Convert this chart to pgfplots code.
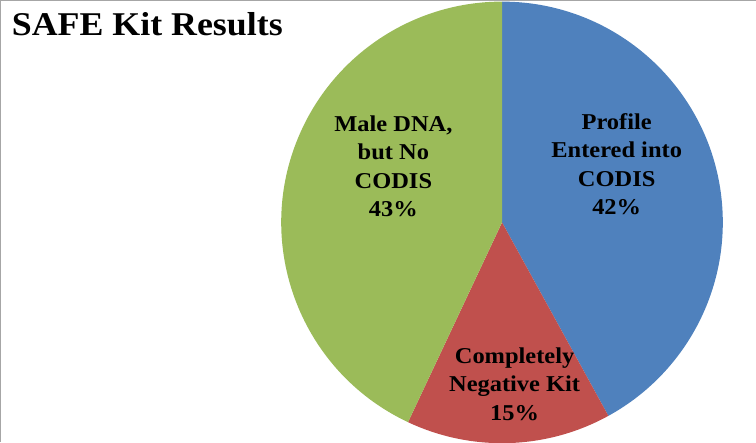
\documentclass[border=0pt]{standalone}
\usepackage{fontspec}
\setmainfont[FakeStretch=1.08]{Liberation Serif}
\usepackage{pgfplots}
\usepackage{pgfplotstable}
\pgfplotsset{compat=1.18}
\definecolor{bblue}{HTML}{4F81BD}
\definecolor{rred}{HTML}{C0504D}
\definecolor{ggreen}{HTML}{9BBB59}
\definecolor{frame}{HTML}{A6A6A6}
% base anchor of a multi-line node sits on its last line
\tikzset{lbl/.style={font=\fontsize{22.5bp}{28.3bp}\bfseries\selectfont, align=center, inner sep=0pt, anchor=base}}

% slice shares in percent, clockwise from 12 o'clock
\pgfplotstableread{
share
42
15
43
}\piedata

\begin{document}
\begin{tikzpicture}
\begin{axis}[
    hide axis,
    scale only axis,
    width=756bp, height=444bp,
    xmin=0, xmax=756, ymin=0, ymax=444,
    at={(0,0)}, anchor=south west,
]
    \def\cx{503.5}\def\cy{218.5}\def\rad{219.5bp}
    \def\start{90}
    \pgfplotsforeachungrouped \i/\col in {0/bblue,1/rred,2/ggreen}{
        \pgfplotstablegetelem{\i}{share}\of\piedata
        \pgfmathsetmacro\stop{\start-3.6*\pgfplotsretval}
        \edef\temp{\noexpand\fill[\col] (axis cs:\cx,\cy) -- ++(\start:\rad)
            arc[start angle=\start, end angle=\stop, radius=\rad] -- cycle;}
        \temp
        \global\let\start\stop
    }
    \draw[frame, line width=1.2bp] (axis cs:5,0) -- (axis cs:5,439) -- (axis cs:756,439);

    \node[lbl] at (axis cs:617.5,226) {Profile\\Entered into\\CODIS\\42\%};
    \node[lbl] at (axis cs:395.5,224) {Male DNA,\\but No\\CODIS\\43\%};
    \node[lbl] at (axis cs:516,22) {Completely\\Negative Kit\\15\%};
    \node[font=\fontsize{33bp}{38bp}\bfseries\selectfont, anchor=base west, inner sep=0pt]
        at (axis cs:16,404.7) {SAFE Kit Results};
\end{axis}
\end{tikzpicture}
\end{document}
